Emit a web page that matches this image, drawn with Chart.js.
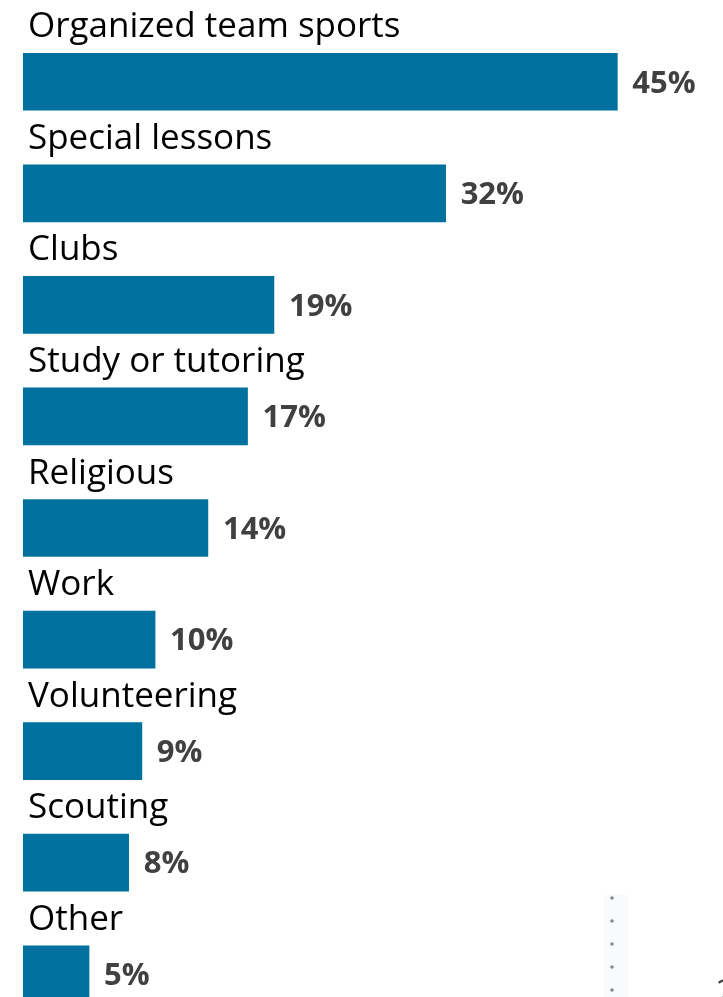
<!DOCTYPE html>
<html>
<head>
<meta charset="utf-8">
<script src="https://cdn.jsdelivr.net/npm/chart.js@4/dist/chart.umd.min.js"></script>
<style>
  html, body { margin: 0; padding: 0; background: #fff; overflow: hidden; }
  #wrap { width: 723px; height: 1040px; }
</style>
</head>
<body>
<div id="wrap"><canvas id="activityChart" width="723" height="1040"></canvas></div>
<script>
  const categories = [
    'Organized team sports',
    'Special lessons',
    'Clubs',
    'Study or tutoring',
    'Religious',
    'Work',
    'Volunteering',
    'Scouting',
    'Other',
  ];
  const shares = [45, 32, 19, 17, 14, 10, 9, 8, 5];

  const barColor = '#00709f';
  const labelFont = '"Open Sans", "Noto Sans", sans-serif';

  // category name above each bar, percentage to the right of it
  const barLabels = {
    id: 'barLabels',
    afterDatasetsDraw(chart) {
      const ctx = chart.ctx;
      const meta = chart.getDatasetMeta(0);
      ctx.save();
      meta.data.forEach((bar, i) => {
        const top = bar.y - bar.height / 2;
        ctx.font = '35px ' + labelFont;
        ctx.fillStyle = '#000';
        ctx.textAlign = 'left';
        ctx.textBaseline = 'alphabetic';
        ctx.fillText(categories[i], 28, top - 16);

        ctx.font = 'bold 31px ' + labelFont;
        ctx.fillStyle = '#404040';
        ctx.textBaseline = 'middle';
        ctx.fillText(shares[i] + '%', bar.x + 15, bar.y + 2);
      });
      ctx.restore();
    },
  };

  // faint leftover strip with a dotted rule in the lower right corner
  const cornerMarks = {
    id: 'cornerMarks',
    afterDraw(chart) {
      const ctx = chart.ctx;
      ctx.save();
      ctx.fillStyle = '#f8fafb';
      ctx.fillRect(604, 895, 24, 110);
      ctx.fillStyle = '#8a8a8a';
      [898, 921, 944, 967, 990].forEach((y) => {
        ctx.beginPath();
        ctx.arc(612, y, 1.8, 0, Math.PI * 2);
        ctx.fill();
      });
      ctx.fillStyle = '#444';
      ctx.font = '34px ' + labelFont;
      ctx.textBaseline = 'alphabetic';
      ctx.fillText('2', 716, 1004);
      ctx.restore();
    },
  };

  function createChart() {
    const ctx = document.getElementById('activityChart').getContext('2d');
    return new Chart(ctx, {
      type: 'bar',
      data: {
        labels: categories,
        datasets: [
          {
            data: shares,
            backgroundColor: barColor,
            barThickness: 57,
          },
        ],
      },
      options: {
        indexAxis: 'y',
        responsive: false,
        animation: false,
        devicePixelRatio: 1,
        layout: {
          padding: { left: 23, right: 0, top: 26, bottom: 10 },
        },
        scales: {
          x: { display: false, min: 0, max: 53 },
          y: { display: false },
        },
        plugins: {
          legend: { display: false },
          tooltip: { enabled: false },
        },
      },
      plugins: [barLabels, cornerMarks],
    });
  }

  createChart();
</script>
</body>
</html>
